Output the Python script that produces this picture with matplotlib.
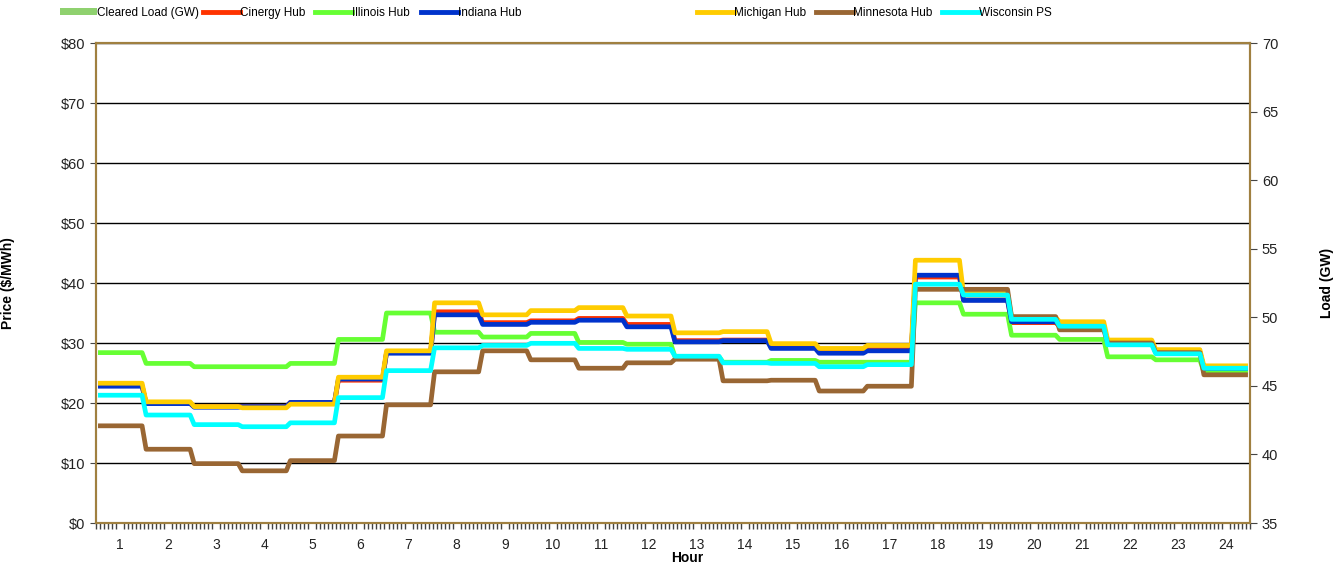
import numpy as np
import matplotlib
matplotlib.use('Agg')
import matplotlib.pyplot as plt
from matplotlib.lines import Line2D
from matplotlib.patches import Patch

plt.rcParams['font.family'] = ['Liberation Sans', 'DejaVu Sans']

hours = list(range(1, 25))
# hourly prices ($/MWh)
cinergy = [22.9, 20.0, 19.4, 19.4, 20.1, 23.8, 28.4, 35.2, 33.4, 33.7, 34.1, 33.1,
           30.4, 30.5, 29.3, 28.5, 28.9, 41.0, 37.2, 33.4, 32.8, 30.0, 28.5, 25.8]
illinois = [28.4, 26.6, 26.05, 26.05, 26.6, 30.6, 35.0, 31.8, 31.0, 31.6, 30.1, 29.8,
            27.7, 26.8, 27.1, 26.8, 26.8, 36.7, 34.8, 31.3, 30.6, 27.7, 27.2, 25.2]
indiana = [22.8, 19.9, 19.3, 19.4, 20.1, 24.0, 28.3, 34.7, 33.1, 33.45, 33.8, 32.7,
           30.2, 30.4, 29.1, 28.3, 28.7, 41.3, 37.1, 33.55, 32.9, 30.05, 28.55, 25.8]
michigan = [23.3, 20.2, 19.4, 19.2, 19.8, 24.3, 28.7, 36.7, 34.7, 35.4, 35.9, 34.5,
            31.7, 31.9, 29.9, 29.1, 29.6, 43.8, 38.3, 34.3, 33.55, 30.5, 28.9, 26.2]
minnesota = [16.2, 12.3, 9.9, 8.7, 10.4, 14.5, 19.7, 25.2, 28.7, 27.2, 25.8, 26.7,
             27.3, 23.7, 23.8, 22.0, 22.8, 38.95, 38.95, 34.4, 32.2, 30.0, 28.4, 24.7]
wisconsin = [21.3, 18.0, 16.4, 16.05, 16.7, 20.9, 25.4, 29.2, 29.6, 29.95, 29.1, 28.95,
             27.8, 26.7, 26.6, 26.05, 26.4, 39.8, 38.0, 33.95, 32.8, 29.7, 28.2, 25.8]

series = [('Cinergy Hub', cinergy, '#FF3300'),
          ('Illinois Hub', illinois, '#66FF33'),
          ('Indiana Hub', indiana, '#0033CC'),
          ('Michigan Hub', michigan, '#FFCC00'),
          ('Minnesota Hub', minnesota, '#996633'),
          ('Wisconsin PS', wisconsin, '#00FFFF')]

steps = 12  # 5-minute intervals per hour
x = np.arange(len(hours) * steps) + 0.5

fig = plt.figure(figsize=(13.39, 5.63), dpi=100)
ax = fig.add_axes([0.0717, 0.071, 0.8618, 0.8526])
ax2 = ax.twinx()

ax.set_zorder(ax2.get_zorder() + 1)
ax.patch.set_visible(False)

for name, vals, col in series:
    ax.plot(x, np.repeat(vals, steps), color=col, lw=3.4, label=name,
            solid_joinstyle='round', solid_capstyle='butt')

ax.set_xlim(0, len(hours) * steps)
ax.set_ylim(0, 80)
ax.set_yticks(range(0, 81, 10))
ax.set_yticklabels(['$%d' % v for v in range(0, 81, 10)])
ax.yaxis.grid(True, color='black', lw=1)
ax.set_axisbelow(True)

ax.set_xticks([steps * (h - 0.5) for h in hours])
ax.set_xticklabels([str(h) for h in hours])
ax.set_xticks(np.arange(0, len(hours) * steps + 1), minor=True)
ax.tick_params(axis='x', which='major', length=0, pad=11, labelsize=10, labelcolor='#222222')
ax.tick_params(axis='x', which='minor', length=4, width=1, color='#444444')
ax.tick_params(axis='y', length=4, labelsize=10.5, color='#444444', labelcolor='#222222')

ax2.set_ylim(35, 70)
ax2.set_yticks(range(35, 71, 5))
ax2.tick_params(axis='y', length=5, labelsize=10.5, color='#444444', labelcolor='#222222')

spine_col = '#A08040'
for a in (ax, ax2):
    for s in a.spines.values():
        s.set_color(spine_col)
        s.set_linewidth(1.5)

ax.set_ylabel('Price ($/MWh)', fontsize=10, fontweight='bold')
ax.yaxis.set_label_coords(-0.0702, 0.5)
ax2.set_ylabel('Load (GW)', fontsize=10, fontweight='bold')
ax2.yaxis.set_label_coords(1.0607, 0.5)
ax.set_xlabel('Hour', fontsize=10, fontweight='bold')
ax.xaxis.set_label_coords(0.512, -0.058)

# legend entries placed one by one at the original positions
h_load = Patch(facecolor='#8FD16F', edgecolor='none', label='Cleared Load (GW)')
h_lines = [Line2D([], [], color=c, lw=3.5, label=n) for n, v, c in series]
leg_x = [60, 203, 315, 421, 697, 816, 942]
leg_kw = dict(frameon=False, fontsize=8.5, handlelength=3.1, handletextpad=0.05,
              borderaxespad=0, borderpad=0, handleheight=0.55, loc='center left')
for hx, hd in zip(leg_x, [h_load] + h_lines):
    fig.legend(handles=[hd], bbox_to_anchor=(hx / 1339, 1 - 13 / 563), **leg_kw)

fig.savefig('out.png', dpi=100)
